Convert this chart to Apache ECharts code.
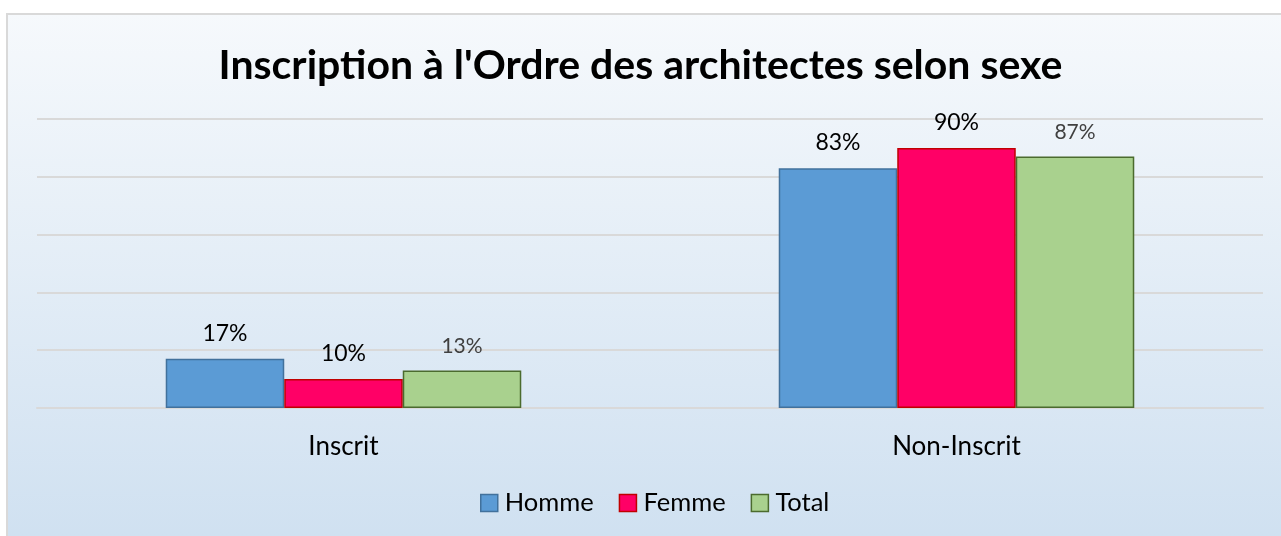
<!DOCTYPE html>
<html>
<head>
<meta charset="utf-8">
<script src="https://cdn.jsdelivr.net/npm/echarts@6/dist/echarts.min.js"></script>
<style>
  html, body { margin: 0; padding: 0; background: #fff; }
  #chart { width: 1281px; height: 536px; }
</style>
</head>
<body>
<div id="chart"></div>
<script>
var categories = ['Inscrit', 'Non-Inscrit'];
var homme = [17, 83];
var femme = [10, 90];
var total = [13, 87];

var chart = echarts.init(document.getElementById('chart'));
var font = 'Lato';

function barSeries(name, data, color, border, labelColor, labelSize) {
    return {
        name: name,
        type: 'bar',
        data: data,
        barGap: '0%',
        barCategoryGap: '42%',
        itemStyle: { color: color, borderColor: border, borderWidth: 1.5 },
        label: {
            show: true,
            position: 'top',
            distance: 14,
            formatter: '{c}%',
            color: labelColor,
            fontFamily: font,
            fontSize: labelSize
        }
    };
}

var option = {
    backgroundColor: '#ffffff',
    animation: false,
    graphic: [{
        type: 'rect',
        z: -10,
        shape: { x: 7, y: 14, width: 1300, height: 560 },
        style: {
            fill: new echarts.graphic.LinearGradient(0, 0, 0, 1, [
                { offset: 0, color: '#f6f9fc' },
                { offset: 1, color: '#cddff0' }
            ]),
            stroke: '#d9d9d9',
            lineWidth: 2
        }
    }],
    title: {
        text: "Inscription à l'Ordre des architectes selon sexe",
        left: 'center',
        top: 40,
        textStyle: { fontFamily: font, fontWeight: 'bold', fontSize: 41, color: '#000' }
    },
    legend: {
        bottom: 15,
        left: 475,
        itemWidth: 17,
        itemHeight: 17,
        itemGap: 25,
        textStyle: { fontFamily: font, fontSize: 25.5, color: '#000', padding: [0, 0, 0, 2] },
        data: [
            { name: 'Homme', icon: 'rect', itemStyle: { borderColor: '#41719c', borderWidth: 1.5 } },
            { name: 'Femme', icon: 'rect', itemStyle: { borderColor: '#c00000', borderWidth: 1.5 } },
            { name: 'Total', icon: 'rect', itemStyle: { borderColor: '#4b6b2e', borderWidth: 1.5 } }
        ]
    },
    grid: { left: 37, right: 18, top: 119, bottom: 128 },
    xAxis: {
        type: 'category',
        data: categories,
        axisLine: { lineStyle: { color: '#d9d9d9', width: 2 } },
        axisTick: { show: false },
        axisLabel: { color: '#000', fontFamily: font, fontSize: 26, margin: 26 }
    },
    yAxis: {
        type: 'value',
        min: 0,
        max: 100,
        interval: 20,
        axisLabel: { show: false },
        axisLine: { show: false },
        axisTick: { show: false },
        splitLine: { lineStyle: { color: '#d9d9d9', width: 2 } }
    },
    series: [
        barSeries('Homme', homme, '#5b9bd5', '#41719c', '#000', 23),
        barSeries('Femme', femme, '#ff0066', '#c00000', '#000', 23),
        barSeries('Total', total, '#a9d18e', '#4b6b2e', '#404040', 21)
    ]
};

chart.setOption(option);
</script>
</body>
</html>
